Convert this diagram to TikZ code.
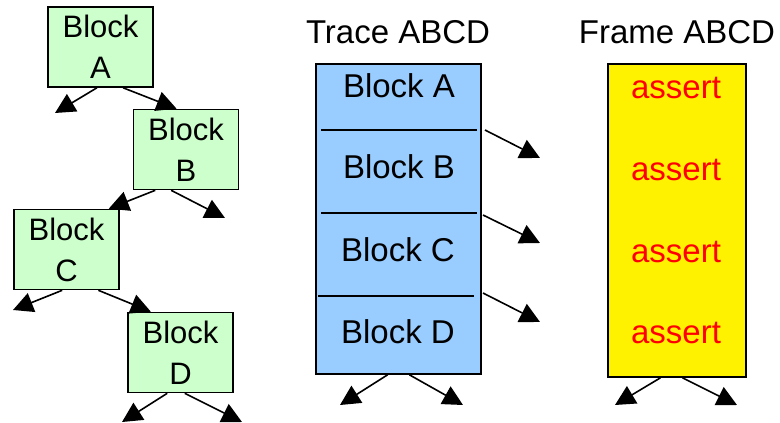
\documentclass[tikz,border=0pt]{standalone}
\usepackage{fontspec}
\setmainfont{Liberation Sans}
\usetikzlibrary{arrows.meta}

\definecolor{blockgreen}{RGB}{204,255,204}
\definecolor{traceblue}{RGB}{153,204,255}

\begin{document}
\begin{tikzpicture}[x=1pt, y=-1pt,
    bigfont/.style={font=\fontsize{33}{41}\selectfont},
    blockbox/.style={draw, line width=1.6pt, fill=blockgreen, inner sep=0pt,
      minimum width=105pt, minimum height=80pt, align=center,
      font=\fontsize{31}{41}\selectfont},
    tallbox/.style={draw, line width=1.6pt, inner sep=0pt},
    arr/.style={line width=1.6pt, -{Triangle[length=20pt, width=20pt]}},
    lbl/.style={inner sep=0pt, anchor=base, bigfont}]
  \useasboundingbox (0,0) rectangle (780,423);

  % left: the blocks one by one
  \node[blockbox] (blkA) at (100.5,47) {Block\\A};
  \node[blockbox] (blkB) at (186,149.5) {Block\\B};
  \node[blockbox] (blkC) at (66.5,249.5) {Block\\C};
  \node[blockbox] (blkD) at (180.5,352.5) {Block\\D};

  \coordinate (endA) at (55,113);
  \coordinate (endB) at (225,218);
  \coordinate (endC) at (13,310);
  \coordinate (endDl) at (122,422);
  \coordinate (endDr) at (242,422);

  \draw[arr] (blkA.-95) -- (endA);
  \draw[arr] (blkA.-61) -- (blkB.103);
  \draw[arr] (blkB.-127) -- (blkC.44);
  \draw[arr] (blkB.-110) -- (endB);
  \draw[arr] (blkC.-96) -- (endC);
  \draw[arr] (blkC.-52) -- (blkD.126);
  \draw[arr] (blkD.-108) -- (endDl);
  \draw[arr] (blkD.-84) -- (endDr);

  % middle: the trace
  \node[lbl] (traceT) at (398,43) {Trace ABCD};
  \node[tallbox, fill=traceblue, minimum width=165pt, minimum height=310pt] (trace) at (398.5,219) {};
  \draw[line width=1.6pt] (321,130) -- (477,130);
  \draw[line width=1.6pt] (321,213) -- (477,213);
  \draw[line width=1.6pt] (318,296) -- (474,296);
  \node[lbl] (trA) at (399,97) {Block A};
  \node[lbl] (trB) at (399,178) {Block B};
  \node[lbl] (trC) at (398,261) {Block C};
  \node[lbl] (trD) at (398,343) {Block D};

  \coordinate (side1) at (485,130);
  \coordinate (side2) at (483,215);
  \coordinate (side3) at (483,293);
  \coordinate (tip1) at (540,158);
  \coordinate (tip2) at (540,243);
  \coordinate (tip3) at (540,322);
  \draw[arr] (side1) -- (tip1);
  \draw[arr] (side2) -- (tip2);
  \draw[arr] (side3) -- (tip3);

  \coordinate (trL) at (340,405);
  \coordinate (trR) at (463,405);
  \draw[arr] (trace.-94) -- (trL);
  \draw[arr] (trace.-86) -- (trR);

  % right: the frame
  \node[lbl] (frameT) at (677,43) {Frame ABCD};
  \node[tallbox, fill=yellow, minimum width=138pt, minimum height=313pt] (frame) at (677,220.5) {};
  \foreach \y/\n in {98/1, 180/2, 262/3, 343/4}
    \node[lbl, text=red] (as\n) at (676,\y) {assert};

  \coordinate (frL) at (615,405);
  \coordinate (frR) at (737,405);
  \draw[arr] (frame.-96) -- (frL);
  \draw[arr] (frame.-88) -- (frR);
\end{tikzpicture}
\end{document}
